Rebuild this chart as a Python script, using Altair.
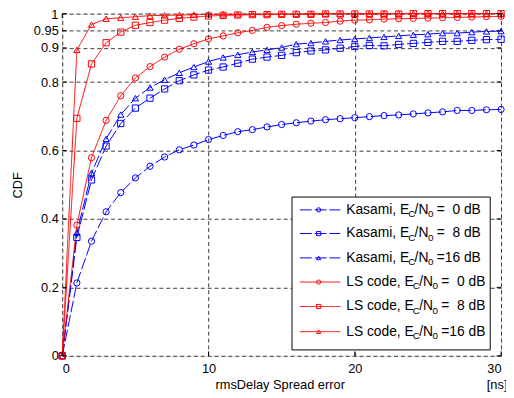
import altair as alt
import pandas as pd

# ---------------- data ----------------
delay_ns = list(range(31))

kasami_0 = [0, 0.213, 0.335, 0.421, 0.477, 0.520, 0.554, 0.581, 0.602, 0.616, 0.632,
            0.644, 0.655, 0.661, 0.669, 0.676, 0.681, 0.686, 0.690, 0.693, 0.696,
            0.699, 0.702, 0.704, 0.707, 0.710, 0.713, 0.717, 0.717, 0.719, 0.720]
kasami_8 = [0, 0.346, 0.514, 0.613, 0.679, 0.724, 0.753, 0.780, 0.804, 0.821, 0.835,
            0.844, 0.855, 0.867, 0.873, 0.878, 0.886, 0.891, 0.894, 0.899, 0.904,
            0.907, 0.906, 0.910, 0.913, 0.916, 0.919, 0.919, 0.922, 0.924, 0.925]
kasami_16 = [0, 0.360, 0.534, 0.634, 0.705, 0.753, 0.784, 0.807, 0.827, 0.844, 0.860,
             0.872, 0.880, 0.888, 0.894, 0.901, 0.911, 0.914, 0.919, 0.923, 0.926,
             0.929, 0.932, 0.935, 0.938, 0.940, 0.943, 0.943, 0.946, 0.948, 0.949]
ls_0 = [0, 0.382, 0.579, 0.688, 0.760, 0.812, 0.845, 0.873, 0.896, 0.912, 0.926,
        0.935, 0.944, 0.951, 0.960, 0.965, 0.969, 0.972, 0.974, 0.978, 0.981,
        0.982, 0.984, 0.985, 0.986, 0.987, 0.988, 0.989, 0.990, 0.991, 0.992]
ls_8 = [0, 0.694, 0.853, 0.915, 0.946, 0.966, 0.974, 0.981, 0.986, 0.990, 0.993,
        0.995, 0.996, 0.997, 0.997, 0.998, 0.998, 0.998, 0.999, 0.999, 0.999,
        0.999, 0.999, 0.999, 1.0, 1.0, 1.0, 1.0, 1.0, 1.0, 1.0]
ls_16 = [0, 0.894, 0.968, 0.985, 0.988, 0.991, 0.994, 0.995, 0.996, 0.997, 0.998,
         0.998, 0.998, 0.999, 0.999, 0.999, 0.999, 1.0, 1.0, 1.0, 1.0,
         1.0, 1.0, 1.0, 1.0, 1.0, 1.0, 1.0, 1.0, 1.0, 1.0]

series_names = ["K0", "K8", "K16", "L0", "L8", "L16"]
series_family = ["Kasami", "Kasami", "Kasami", "LS code", "LS code", "LS code"]
series_snr = ["0", "8", "16", "0", "8", "16"]
series_values = [kasami_0, kasami_8, kasami_16, ls_0, ls_8, ls_16]
series_colors = ["#0000ff", "#0000ff", "#0000ff", "#ff0000", "#ff0000", "#ff0000"]
legend_value = ["0 dB", "8 dB", "16 dB", "0 dB", "8 dB", "16 dB"]

y_ticks = [0, 0.2, 0.4, 0.6, 0.8, 0.9, 0.95, 1]
x_ticks = [0, 10, 20, 30]

# ---------------- layout ----------------
W, H = 445, 347
FONT = "Liberation Sans"
XMAX = 30

rows = []
for name, fam, snr, vals in zip(series_names, series_family, series_snr, series_values):
    for xv, yv in zip(delay_ns, vals):
        rows.append({"x": xv, "y": yv, "series": name, "family": fam, "snr": snr})
df = pd.DataFrame(rows)

xs = alt.Scale(domain=[0, XMAX], nice=False, zero=False)
ys = alt.Scale(domain=[0, 1], nice=False, zero=False)
color_scale = alt.Scale(domain=series_names, range=series_colors)
dash_scale = alt.Scale(domain=["Kasami", "LS code"], range=[[12, 3], [1, 0]])
shape_scale = alt.Scale(domain=["0", "8", "16"], range=["circle", "square", "triangle-up"])

GRID = dict(grid=True, ticks=False, domain=False, labelFontSize=13, labelFont=FONT,
            labelColor="black", gridDash=[4, 3], gridColor="#3a3a3a", gridWidth=1)
X = alt.X("x:Q", scale=xs,
          axis=alt.Axis(values=x_ticks, title=None, labelPadding=7, **GRID))
Y = alt.Y("y:Q", scale=ys,
          axis=alt.Axis(values=y_ticks, title=None, format=".2~f", labelPadding=4,
                        labelExpr="datum.value == 1 ? '' : datum.label", **GRID))

lines = alt.Chart(df).mark_line(strokeWidth=1).encode(
    x=X, y=Y,
    color=alt.Color("series:N", scale=color_scale, legend=None),
    strokeDash=alt.StrokeDash("family:N", scale=dash_scale, legend=None),
    detail="series:N",
)
points = alt.Chart(df).mark_point(filled=False, size=40, strokeWidth=1, opacity=1).encode(
    x="x:Q", y="y:Q",
    color=alt.Color("series:N", scale=color_scale, legend=None),
    shape=alt.Shape("snr:N", scale=shape_scale, legend=None),
)

# top tick label "1" drawn separately, nudged so it stays inside the page
top_label = alt.Chart(pd.DataFrame([{"v": y_ticks[-1], "t": "1"}])).mark_text(
    align="right", baseline="middle", fontSize=13, font=FONT, color="black", dy=1.5).encode(
    y="v:Q", x=alt.value(-4), text="t:N")


def dx(px):
    return px * XMAX / W


def dy(py):
    return 1 - py / H


# legend box
lx0, lx1, ly0, ly1 = 233, 434, 186, 341
box_df = pd.DataFrame([{"x": dx(lx0), "x2": dx(lx1), "y": dy(ly0), "y2": dy(ly1)}])
box = alt.Chart(box_df).mark_rect(fill="white", stroke="black", strokeWidth=1).encode(
    x="x:Q", x2="x2:Q", y="y:Q", y2="y2:Q")

row_y = [199, 223, 247.7, 272.2, 297, 322.5]
leg_lines = pd.DataFrame([
    {"x": dx(241), "x2": dx(282), "y": dy(ry), "series": s, "family": f}
    for ry, s, f in zip(row_y, series_names, series_family)])
leg_pts = pd.DataFrame([
    {"x": dx(260), "y": dy(ry), "series": s, "snr": n}
    for ry, s, n in zip(row_y, series_names, series_snr)])

legend_lines = alt.Chart(leg_lines).mark_rule(strokeWidth=1).encode(
    x="x:Q", x2="x2:Q", y="y:Q",
    color=alt.Color("series:N", scale=color_scale, legend=None),
    strokeDash=alt.StrokeDash("family:N", scale=dash_scale, legend=None))
legend_pts = alt.Chart(leg_pts).mark_point(filled=False, size=18, strokeWidth=1, opacity=1).encode(
    x="x:Q", y="y:Q",
    color=alt.Color("series:N", scale=color_scale, legend=None),
    shape=alt.Shape("snr:N", scale=shape_scale, legend=None))

# Arial/Helvetica advance widths (per 1000 em)
AW = {'K': 667, 'a': 556, 's': 500, 'm': 833, 'i': 222, ',': 278, ' ': 278,
      'E': 667, 'L': 556, 'S': 667, 'c': 500, 'o': 556, 'd': 556, 'e': 556, 'C': 722,
      '/': 278, 'N': 722, '0': 556, '=': 584, '8': 556, '1': 556, '6': 556, 'B': 667}


def tw(s, size):
    return sum(AW.get(ch, 556) for ch in s) * size / 1000.0


MAIN, SUB = 14, 9
main_left, sub_left, main_right = [], [], []
for ry, fam, val in zip(row_y, series_family, legend_value):
    px = 288
    t = fam + ", E"
    main_left.append({"x": dx(px), "y": dy(ry), "t": t})
    px += tw(t, MAIN) - 1
    sub_left.append({"x": dx(px), "y": dy(ry + 4.5), "t": "C"})
    px += tw("C", SUB)
    main_left.append({"x": dx(px), "y": dy(ry), "t": "/N"})
    px += tw("/N", MAIN) - 0.5
    sub_left.append({"x": dx(px), "y": dy(ry + 4.5), "t": "0"})
    px += tw("0", SUB) + tw(" ", MAIN)
    main_left.append({"x": dx(px), "y": dy(ry), "t": "="})
    end = px + tw("=16 dB", MAIN)
    main_right.append({"x": dx(end), "y": dy(ry), "t": val})

legend_main = alt.Chart(pd.DataFrame(main_left)).mark_text(
    align="left", baseline="middle", fontSize=MAIN, font=FONT, color="black").encode(
    x="x:Q", y="y:Q", text="t:N")
legend_vals = alt.Chart(pd.DataFrame(main_right)).mark_text(
    align="right", baseline="middle", fontSize=MAIN, font=FONT, color="black").encode(
    x="x:Q", y="y:Q", text="t:N")
legend_sub = alt.Chart(pd.DataFrame(sub_left)).mark_text(
    align="left", baseline="middle", fontSize=SUB + 1, font=FONT, color="black").encode(
    x="x:Q", y="y:Q", text="t:N")

# inward ticks on all four sides
TL = 4.5
yt = pd.DataFrame({"v": y_ticks})
xt = pd.DataFrame({"v": x_ticks})
tick_l = alt.Chart(yt).mark_rule(color="black", strokeWidth=1).encode(
    y="v:Q", x=alt.value(0), x2=alt.value(TL))
tick_r = alt.Chart(yt).mark_rule(color="black", strokeWidth=1).encode(
    y="v:Q", x=alt.value(W - TL), x2=alt.value(W))
tick_b = alt.Chart(xt).mark_rule(color="black", strokeWidth=1).encode(
    x="v:Q", y=alt.value(H), y2=alt.value(H - TL))
tick_t = alt.Chart(xt).mark_rule(color="black", strokeWidth=1).encode(
    x="v:Q", y=alt.value(0), y2=alt.value(TL))

# titles
xtitle = alt.Chart(pd.DataFrame([{"t": "rmsDelay Spread error"}])).mark_text(
    align="center", baseline="alphabetic", fontSize=13, font=FONT, color="black").encode(
    text="t:N", x=alt.value(221), y=alt.value(381))
unit = alt.Chart(pd.DataFrame([{"t": "[ns]"}])).mark_text(
    align="center", baseline="alphabetic", fontSize=13, font=FONT, color="black").encode(
    text="t:N", x=alt.value(441), y=alt.value(381))
ytitle = alt.Chart(pd.DataFrame([{"t": "CDF"}])).mark_text(
    align="center", baseline="middle", fontSize=13, font=FONT, color="black", angle=270).encode(
    text="t:N", x=alt.value(-45), y=alt.value(174))

chart = alt.layer(
    lines, points, top_label, box, legend_lines, legend_pts, legend_main, legend_vals,
    legend_sub, tick_l, tick_r, tick_b, tick_t, xtitle, unit, ytitle
).properties(
    width=W, height=H,
    autosize=alt.AutoSizeParams(type="none"),
    padding={"left": 55, "top": 3, "right": 5, "bottom": 36},
).configure_view(
    stroke="black", strokeWidth=1
).configure(background="white")

chart.save("out.html", embed_options={"renderer": "svg", "actions": False})
